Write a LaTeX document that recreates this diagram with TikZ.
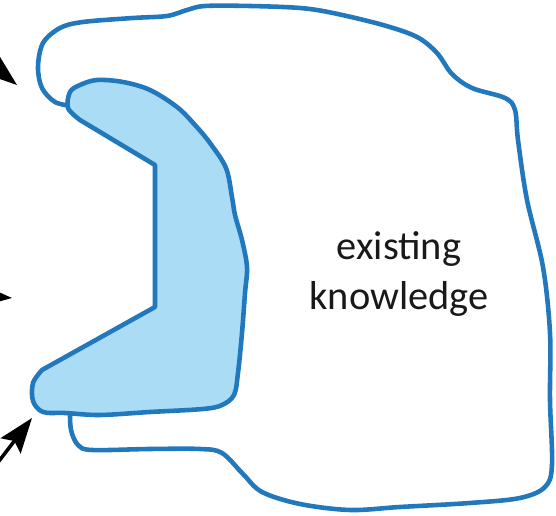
\documentclass[tikz,border=0pt]{standalone}
\usepackage{fontspec}
\setmainfont{Carlito}
\usetikzlibrary{arrows.meta}
\definecolor{rim}{RGB}{33,120,188}
\definecolor{newfill}{RGB}{170,220,246}
\definecolor{ink}{RGB}{25,25,25}

\begin{document}
\begin{tikzpicture}[x=0.02cm, y=-0.02cm,
    rimline/.style={rim, line width=2.6pt, line join=round, line cap=round},
    push/.style={line width=2pt, -{Stealth[length=0.7cm, width=0.5cm, inset=0.12cm]}}]
  \useasboundingbox (0,0) rectangle (556,516);
  % outer region: what is already known
  \draw[rimline] plot[smooth, tension=0.55] coordinates {
      (72,106) (55,102) (42,88) (38,67) (43,43) (60,28) (83,22) (133,18)
      (167,16) (187,10) (205,6) (250,6) (300,8) (333,13) (383,25) (417,37)
      (437,53) (452,74) (472,88) (505,98) (515,110) (518,140) (527,200)
      (543,267) (550,333) (550,400) (552,465) (545,487) (520,498) (470,503)
      (400,507) (350,510) (300,504) (262,492) (243,474) (222,453) (200,449)
      (150,449) (92,450) (78,445) (71,430) (70,410)};
  % newly added region
  \draw[rimline, fill=newfill] (42,370) -- (155,307) -- (155,165)
    -- plot[smooth, tension=0.55] coordinates {
      (80,120) (68,108) (70,92) (80,85) (97,80) (123,82) (150,90) (177,107)
      (195,125) (210,143) (226,168) (232,197) (235,215) (242,240) (247,267)
      (245,293) (242,333) (238,373) (234,395) (222,405) (203,409) (150,412)
      (100,415) (65,413) (43,412) (33,401) (33,383) (42,370)} -- cycle;
  \node[ink, font=\fontsize{23}{28.5}\selectfont, align=center] (known)
    at (399,274) {existing\\knowledge};
  % incoming arrows
  \coordinate (topfrom) at (-30,47);
  \coordinate (topto) at (17,85);
  \coordinate (midfrom) at (-40,294);
  \coordinate (midto) at (12,298);
  \coordinate (lowfrom) at (-14,478);
  \coordinate (lowto) at (32,418);
  \draw[push] (topfrom) -- (topto);
  \draw[push] (midfrom) -- (midto);
  \draw[push] (lowfrom) -- (lowto);
\end{tikzpicture}
\end{document}
